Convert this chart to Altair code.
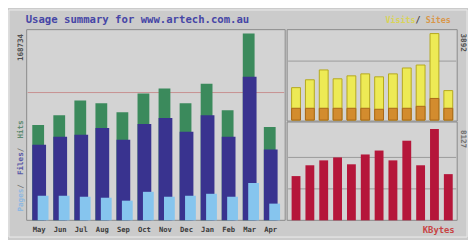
import altair as alt
import pandas as pd

months = ["May", "Jun", "Jul", "Aug", "Sep", "Oct", "Nov", "Dec", "Jan", "Feb", "Mar", "Apr"]
hits   = [97, 107, 122, 119, 110, 129, 134, 119, 139, 112, 190, 95]
files  = [77, 85, 87, 94, 82, 98, 104, 90, 107, 85, 146, 72]
pages  = [25, 25, 24, 23, 20, 29, 24, 25, 27, 24, 38, 17]
visits = [33, 41, 51, 42, 45, 47, 44, 47, 53, 56, 88, 30]
sites  = [12, 12, 12, 12, 12, 12, 11, 12, 12, 14, 22, 12]
kbytes = [45, 56, 61, 64, 57, 67, 71, 61, 81, 56, 93, 47]

df = pd.DataFrame({"month": months, "hits": hits, "files": files, "pages": pages,
                   "visits": visits, "sites": sites, "kbytes": kbytes})

FONT = "DejaVu Sans Mono"

xl = alt.X("month:N", sort=months, axis=None,
           scale=alt.Scale(type="band", range=[21, 278], paddingInner=0, paddingOuter=0))
xr = alt.X("month:N", sort=months, axis=None,
           scale=alt.Scale(type="band", range=[286, 455], paddingInner=0, paddingOuter=0))

def yl(f):
    return alt.Y(f"{f}:Q", axis=None, scale=alt.Scale(domain=[0, 192], range=[214, 22], nice=False))

def yrt(f):
    return alt.Y(f"{f}:Q", axis=None, scale=alt.Scale(domain=[0, 90], range=[112, 22], nice=False))

def yrb(f):
    return alt.Y(f"{f}:Q", axis=None, scale=alt.Scale(domain=[0, 98], range=[214, 116], nice=False))

one = pd.DataFrame({"k": [0]})

def rect(x1, x2, y1, y2, fill, stroke, sw=1):
    return alt.Chart(one).mark_rect(fill=fill, stroke=stroke, strokeWidth=sw).encode(
        x=alt.value(x1), x2=alt.value(x2), y=alt.value(y1), y2=alt.value(y2))

def hline(y, x1, x2, color, dash=None):
    kw = {"color": color, "strokeWidth": 1}
    if dash:
        kw["strokeDash"] = dash
    return alt.Chart(one).mark_rule(**kw).encode(
        x=alt.value(x1), x2=alt.value(x2), y=alt.value(y))

def txt(s, x, y, color, size, align="left", angle=0, bold=False):
    kw = dict(text=s, font=FONT, fontSize=size, color=color, align=align, baseline="middle")
    if angle:
        kw["angle"] = angle
    if bold:
        kw["fontWeight"] = "bold"
    return alt.Chart(one).mark_text(**kw).encode(x=alt.value(x), y=alt.value(y))

frame = [
    rect(1, 467, 0, 231, "#CBCBCB", "#EDEDED"),
    rect(19, 282, 20, 214, "#D3D3D3", "#8A8A8A"),
    rect(284, 457, 20, 113, "#D3D3D3", "#8A8A8A"),
    rect(284, 457, 114, 214, "#D3D3D3", "#8A8A8A"),
    hline(84, 20, 281, "#C89090"),
    hline(52, 285, 456, "#9A9A9A"),
    hline(150, 285, 456, "#9A9A9A"),
    hline(182, 285, 456, "#9A9A9A"),
]

base = alt.Chart(df)
left = alt.layer(
    base.mark_bar(color="#3B8A5C", size=12, xOffset=-1).encode(x=xl, y=yl("hits")),
    base.mark_bar(color="#39338F", size=14, xOffset=0).encode(x=xl, y=yl("files")),
    base.mark_bar(color="#86C5EE", size=11, xOffset=4).encode(x=xl, y=yl("pages")),
    base.mark_text(font=FONT, fontSize=7.3, fontWeight="bold", color="#3A3A3A",
                   baseline="middle").encode(x=xl, y=alt.value(224), text="month:N"),
)
rtop = alt.layer(
    base.mark_bar(color="#EDEA55", stroke="#B5A81E", strokeWidth=1, size=9).encode(x=xr, y=yrt("visits")),
    base.mark_bar(color="#D38C2E", stroke="#A8661A", strokeWidth=1, size=9).encode(x=xr, y=yrt("sites")),
)
rbot = alt.layer(
    base.mark_bar(color="#B5163A", size=9).encode(x=xr, y=yrb("kbytes")),
)

texts = [
    txt("Usage summary for www.artech.com.au", 18, 10, "#4646A6", 10.8, bold=True),
    txt("Visits", 384, 10, "#D9D35A", 8.5, bold=True),
    txt("/", 414.6, 10, "#404040", 8.5, bold=True),
    txt("Sites", 425, 10, "#D9974A", 8.5, bold=True),
    txt("KBytes", 422, 224, "#C84444", 9, bold=True),
    txt("Pages", 13, 205, "#8FB8E0", 7.7, angle=270, bold=True),
    txt(" / ", 13, 181.8, "#707070", 7.7, angle=270, bold=True),
    txt("Files", 13, 167.9, "#5A5AA8", 7.7, angle=270, bold=True),
    txt(" / ", 13, 144.7, "#707070", 7.7, angle=270, bold=True),
    txt("Hits", 13, 130.8, "#5E8A70", 7.7, angle=270, bold=True),
    txt("168734", 13, 52, "#505050", 7.7, angle=270, bold=True),
    txt("3892", 463, 24, "#505050", 7.7, angle=90, bold=True),
    txt("8127", 463, 122, "#707070", 7.7, angle=90, bold=True),
]

chart = alt.layer(*frame, left, rtop, rbot, *texts).resolve_scale(
    x="independent", y="independent"
).properties(
    width=468, height=232, padding=0,
    autosize=alt.AutoSizeParams(type="none"),
    background="#CBCBCB",
).configure_view(stroke=None)

chart.save("out.html", embed_options={"renderer": "svg", "actions": False})
